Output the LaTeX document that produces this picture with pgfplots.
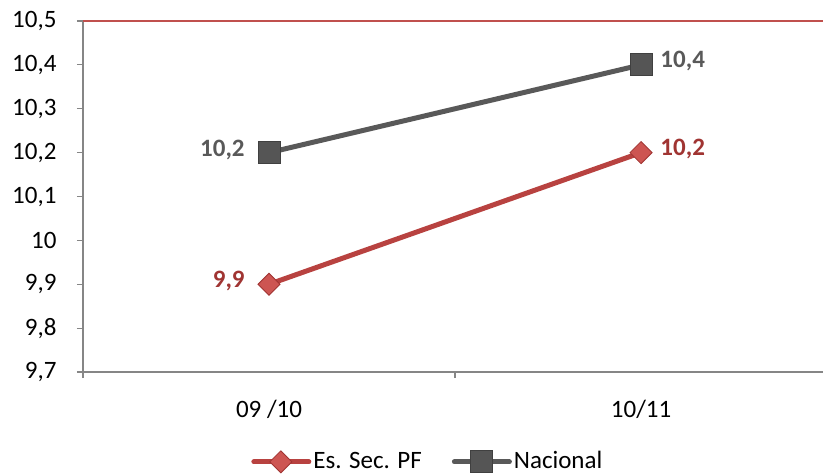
\documentclass[border=0pt]{standalone}
\usepackage{pgfplots}
\pgfplotsset{compat=1.18}
\usetikzlibrary{calc}
\usepackage{fontspec}
\setmainfont{Carlito}
\definecolor{redline}{RGB}{184,66,64}
\definecolor{redlab}{RGB}{160,52,50}
\definecolor{redfill}{RGB}{205,85,82}
\definecolor{grayline}{RGB}{89,89,89}
\definecolor{graylab}{RGB}{89,89,89}
\definecolor{grayfill}{RGB}{85,85,85}
\definecolor{axgray}{RGB}{134,134,134}
\definecolor{topred}{RGB}{192,80,77}
\begin{document}
\begin{tikzpicture}
\fontsize{25bp}{30bp}\selectfont
\begin{axis}[
  name=ax,
  width=740bp, height=351bp, scale only axis,
  xmin=-0.5, xmax=1.489,
  ymin=9.7, ymax=10.5,
  axis x line*=bottom, axis y line*=left,
  axis line style={draw=axgray, line width=1.6bp},
  tick align=outside,
  ytick={9.7,9.8,9.9,10,10.1,10.2,10.3,10.4,10.5},
  /pgf/number format/use comma,
  /pgf/number format/fixed,
  /pgf/number format/precision=1,
  /pgf/number format/assume math mode=true,
  ytick style={draw=axgray, line width=1.2bp},
  major tick length=6bp,
  xtick={0,1}, xticklabels={09 /10,10/11},
  major x tick style={draw=none},
  minor xtick={-0.5,0.5,1.5},
  minor x tick style={draw=axgray, line width=1.2bp},
  minor tick length=6bp,
  xticklabel style={yshift=-14bp},
  yticklabel style={xshift=-12bp},
  tick label style={font=\fontsize{25bp}{30bp}\selectfont, text=black},
  clip=false,
  nodes near coords,
  point meta=y,
  every node near coord/.append style={font=\bfseries\fontsize{25bp}{30bp}\selectfont, inner sep=0pt},
  coordinate style/.condition={x==0}{anchor=east, xshift=-24bp, yshift=3bp},
  coordinate style/.condition={x==1}{anchor=west, xshift=19bp, yshift=4bp},
  legend columns=2,
  legend style={at={(0.466,-0.256)}, anchor=center, draw=none, fill=none,
    font=\fontsize{25bp}{30bp}\selectfont, column sep=0bp,
    /tikz/every even column/.append style={column sep=28bp}},
  legend cell align=left,
  legend image code/.code={\draw[mark repeat=2,mark phase=2,line cap=round,#1] plot coordinates {(0bp,0bp) (27bp,0bp) (55bp,0bp)};},
]
\draw[topred, line width=1.6bp] (rel axis cs:0,1) -- (rel axis cs:1.01,1);
\addplot[redline, line width=5bp, mark=square*, mark size=7.8bp,
  mark options={rotate=45, fill=redfill, draw=redlab, line width=0.8bp},
  every node near coord/.append style={text=redlab}]
  coordinates {(0,9.9) (1,10.2)};
\addlegendentry{Es. Sec. PF}
\addplot[grayline, line width=5bp, mark=square*, mark size=11bp,
  mark options={fill=grayfill, draw=black!75, line width=0.8bp},
  every node near coord/.append style={text=graylab}]
  coordinates {(0,10.2) (1,10.4)};
\addlegendentry{Nacional}
\end{axis}
\pgfresetboundingbox
\useasboundingbox ($(ax.south west)+(-83bp,-102bp)$) rectangle ++(823bp,474bp);
\end{tikzpicture}
\end{document}
